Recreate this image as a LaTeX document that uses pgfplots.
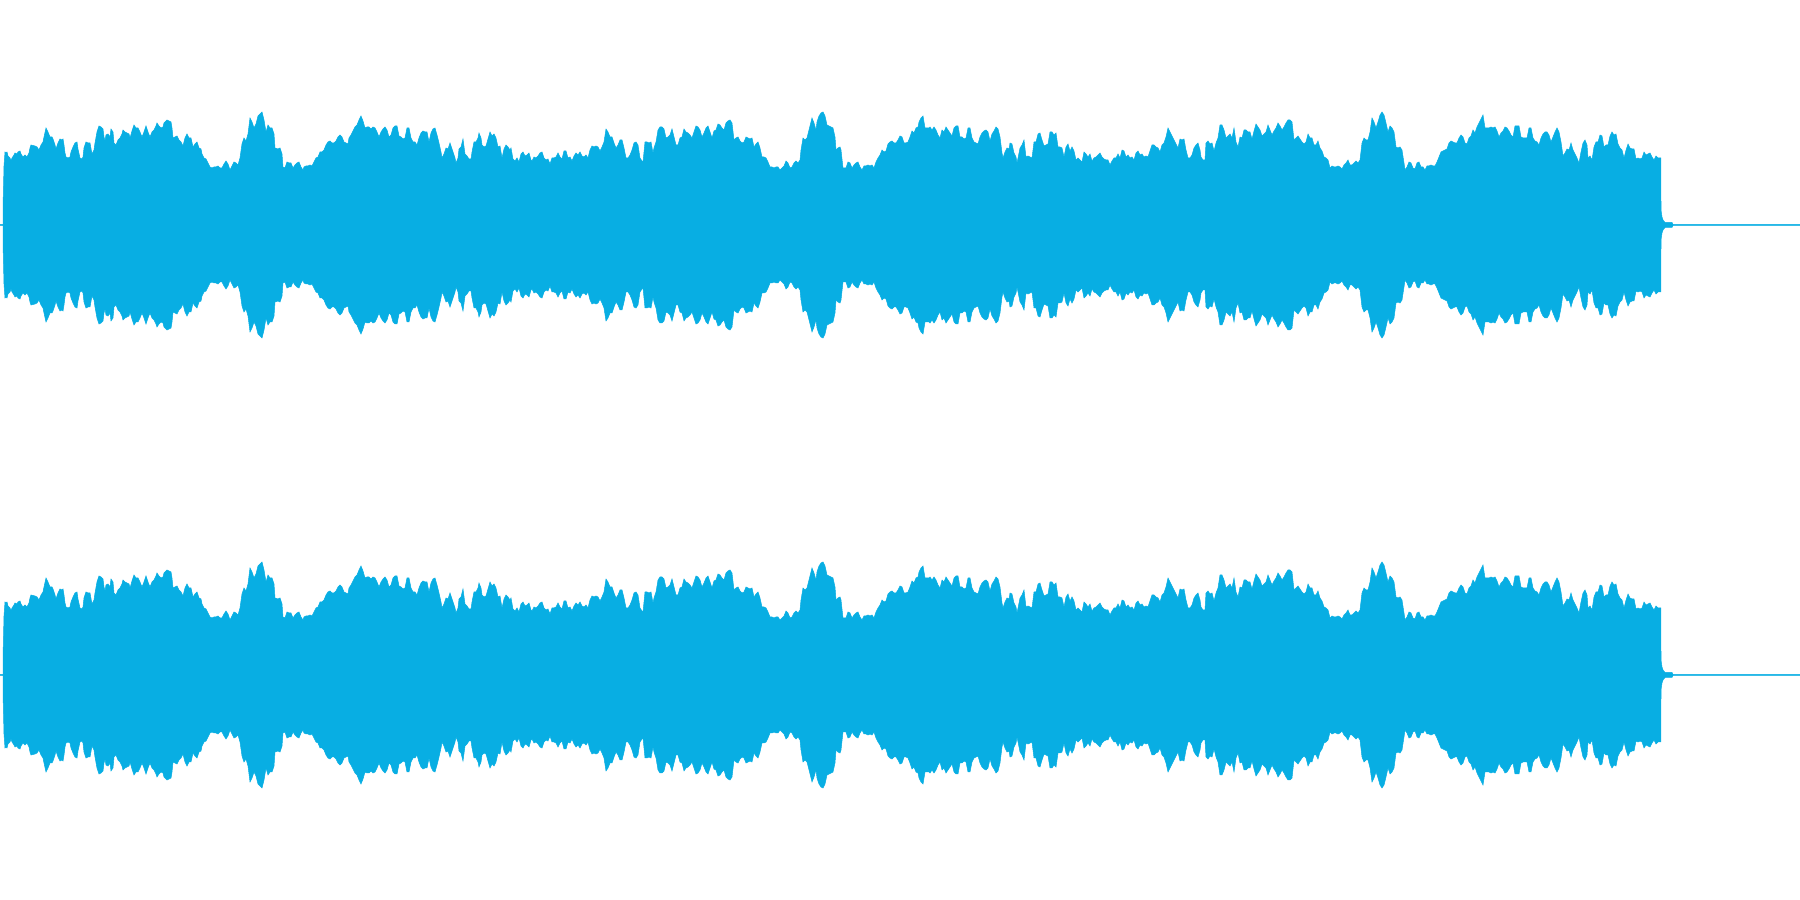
\documentclass[border=0pt]{standalone}
\usepackage{pgfplots}
\usepackage{pgfplotstable}
\pgfplotsset{compat=1.18}
\definecolor{wave}{RGB}{8,174,227}
\pgfplotstableread{
x a
0 0.35
3 0.35
3.1 22
4 59
5 73
6 72
7 73
8 69
10 67
11 64
12 67
14 70
15 72
17 71
18 73
20 74
21 71
23 68
25 70
27 68
29 72
30 77
31 80
35 79
37 78
39 75
41 80
43 83
44 88
46 97
48 93
50 88
52 88
53 86
55 80
56 76
58 82
60 86
62 85
63 86
64 80
65 72
66 68
68 67
70 68
71 73
73 78
75 82
77 83
78 76
80 67
82 66
83 68
84 77
86 83
88 82
90 82
92 71
94 75
95 82
97 93
99 99
101 98
103 96
104 88
105 84
106 90
108 91
110 88
111 96
113 93
114 82
116 80
118 85
120 87
122 91
123 95
125 93
127 92
129 91
130 87
132 94
134 100
136 97
138 97
140 93
142 88
144 93
146 99
148 93
150 88
152 93
154 95
156 99
157 102
159 99
161 97
163 98
164 102
167 105
169 104
171 103
172 97
173 87
175 88
177 89
179 85
181 83
183 79
185 87
187 91
189 87
191 87
193 78
195 81
197 83
199 77
201 76
202 71
204 67
206 66
208 62
210 58
212 57
214 58
216 58
218 59
220 57
222 57
224 61
226 64
228 61
230 55
232 59
234 63
236 62
238 60
240 67
241 74
242 81
244 87
246 84
248 91
250 107
252 103
254 97
256 101
258 109
260 111
262 113
264 105
266 93
268 100
270 97
272 97
274 91
275 77
278 76
280 77
282 71
283 58
285 57
287 63
289 62
291 62
293 57
295 60
297 62
299 63
301 58
303 55
304 58
306 59
308 59
310 60
312 59
314 63
316 67
318 68
320 73
322 73
324 75
326 80
328 83
330 84
332 82
334 82
336 84
338 88
340 90
342 88
344 83
346 82
348 81
349 87
351 90
353 94
355 98
357 100
359 105
361 109
363 104
365 97
367 98
369 98
371 96
373 98
375 97
377 93
379 88
381 93
383 96
385 98
387 95
389 88
391 90
393 97
395 99
397 99
399 89
401 88
403 86
405 87
407 97
409 97
411 87
413 83
415 83
417 80
419 87
421 92
423 94
425 93
427 93
429 83
431 92
433 96
435 97
437 90
439 82
441 73
442 67
444 71
446 77
448 76
450 82
452 76
454 70
455 67
456 62
458 67
459 76
461 78
463 86
465 71
467 69
469 66
471 66
472 73
474 83
476 83
478 87
479 92
481 87
482 80
484 78
486 79
488 86
490 93
492 89
494 91
496 87
498 78
500 79
502 67
504 76
506 80
508 78
510 75
511 77
513 66
515 64
517 67
519 63
521 71
523 73
525 69
527 70
529 72
531 65
532 64
534 68
536 67
538 69
540 72
542 73
544 67
546 65
548 66
550 61
552 67
554 67
556 68
558 72
560 68
562 66
564 74
566 74
568 67
570 68
572 64
574 69
576 72
578 70
580 73
582 69
584 68
586 70
588 67
590 75
592 79
594 78
596 79
598 78
600 74
602 78
604 83
606 96
608 93
610 88
612 88
614 82
616 77
618 80
620 85
622 85
624 77
626 67
628 67
630 70
632 75
634 82
636 83
638 80
640 67
642 64
643 63
645 83
647 83
649 82
651 83
653 72
654 77
656 83
658 95
660 98
662 98
664 96
666 87
668 88
670 90
672 96
674 88
676 80
678 80
680 87
682 88
684 96
686 93
688 92
690 90
692 87
694 93
696 99
698 98
700 95
702 88
704 92
706 97
708 99
710 93
712 87
714 94
716 95
718 101
720 100
722 97
724 95
726 102
728 104
730 105
732 102
734 85
736 87
738 88
740 84
742 82
744 83
746 88
748 87
750 86
752 87
754 78
756 81
758 83
760 77
762 68
764 68
766 67
768 63
770 58
772 58
774 57
776 58
778 58
780 55
782 57
784 59
786 64
788 62
790 57
792 58
794 62
796 64
798 62
800 65
801 75
803 87
805 85
807 87
809 95
811 103
812 107
814 102
816 95
817 103
819 109
821 112
823 113
825 109
827 100
829 99
831 98
833 97
835 88
836 75
838 77
840 78
841 75
843 57
846 57
848 63
850 62
852 57
854 60
856 62
858 63
860 58
862 55
864 59
866 59
868 60
870 59
872 60
874 57
876 63
878 67
880 70
882 75
884 73
886 74
888 81
890 83
892 84
894 82
896 82
898 85
900 89
902 88
904 82
906 82
908 83
910 88
912 94
914 92
916 97
918 98
919 103
921 107
923 109
925 97
927 97
929 97
930 98
932 95
934 98
936 95
938 90
940 87
942 95
944 93
946 98
948 95
950 92
952 89
954 97
956 99
958 99
960 88
962 88
964 86
966 87
968 97
970 97
972 87
974 83
976 82
978 81
980 88
982 92
984 94
986 95
988 93
990 84
992 91
994 94
996 98
998 96
1000 88
1002 72
1003 67
1005 73
1007 77
1009 76
1010 82
1012 81
1014 72
1016 68
1017 62
1018 67
1020 77
1022 80
1024 85
1026 68
1028 69
1030 68
1032 67
1034 83
1036 83
1038 91
1040 92
1042 85
1044 79
1046 80
1048 81
1050 93
1052 93
1054 90
1056 92
1058 78
1060 78
1062 77
1064 68
1066 78
1068 81
1070 74
1072 78
1074 74
1076 65
1078 67
1080 65
1082 63
1084 73
1086 71
1088 68
1090 71
1092 64
1094 67
1096 68
1098 70
1100 72
1102 68
1104 66
1106 65
1108 65
1110 60
1112 64
1114 67
1116 67
1118 71
1120 67
1122 75
1124 74
1126 68
1128 70
1130 67
1132 68
1134 65
1136 72
1138 74
1140 70
1142 71
1144 68
1146 69
1148 68
1150 74
1152 80
1154 80
1156 78
1158 77
1160 73
1162 80
1164 82
1166 88
1168 97
1170 93
1172 89
1174 85
1176 81
1178 77
1180 86
1182 85
1184 86
1186 75
1188 67
1190 67
1192 70
1194 77
1196 80
1198 82
1200 75
1201 68
1203 65
1205 65
1206 82
1208 84
1210 81
1212 82
1214 74
1216 82
1218 87
1220 100
1222 100
1224 95
1226 87
1228 89
1230 91
1232 87
1234 97
1236 83
1238 78
1240 88
1242 87
1244 95
1246 95
1248 93
1250 93
1252 86
1254 94
1256 101
1258 98
1260 95
1262 89
1264 91
1266 93
1268 100
1270 95
1272 90
1274 94
1276 97
1278 102
1280 99
1282 95
1284 98
1286 102
1288 105
1290 105
1292 103
1294 85
1296 87
1298 89
1300 86
1302 83
1304 81
1306 83
1308 91
1310 87
1312 87
1314 80
1316 80
1318 84
1320 77
1322 74
1324 68
1326 67
1328 65
1330 57
1332 59
1334 58
1336 58
1338 59
1340 58
1342 56
1344 60
1346 62
1348 65
1350 60
1352 60
1354 62
1356 64
1358 62
1360 65
1362 82
1364 87
1366 85
1368 85
1370 93
1372 107
1374 103
1376 97
1378 103
1380 110
1382 113
1384 110
1386 102
1388 93
1390 99
1392 97
1394 93
1396 78
1398 77
1400 78
1402 75
1404 62
1405 55
1407 58
1409 63
1411 62
1413 57
1415 56
1417 62
1419 63
1421 58
1423 58
1425 55
1427 59
1429 59
1431 60
1433 59
1435 59
1437 63
1439 68
1441 73
1443 74
1445 75
1447 76
1449 82
1451 84
1453 83
1455 82
1457 82
1459 87
1461 90
1463 88
1465 82
1467 81
1469 87
1471 89
1473 95
1475 92
1477 98
1479 102
1481 106
1483 110
1485 97
1487 97
1489 97
1491 98
1493 97
1495 98
1497 94
1499 88
1501 92
1503 94
1505 98
1507 97
1509 94
1511 90
1513 88
1515 99
1517 99
1519 99
1521 88
1523 87
1525 87
1527 87
1529 97
1531 97
1533 87
1535 84
1537 83
1539 80
1541 87
1543 91
1545 93
1547 93
1549 90
1551 83
1553 88
1555 93
1557 97
1559 93
1561 83
1563 69
1565 72
1567 76
1569 75
1571 82
1573 75
1575 71
1577 67
1579 62
1581 73
1583 82
1585 85
1587 80
1588 67
1590 69
1592 65
1594 78
1596 83
1598 83
1600 90
1602 89
1604 78
1606 80
1608 80
1610 89
1612 93
1614 90
1616 91
1618 81
1620 77
1622 75
1624 67
1626 75
1628 81
1630 77
1632 76
1634 76
1636 66
1638 67
1640 66
1642 67
1644 73
1646 70
1648 71
1650 72
1652 68
1654 65
1656 69
1658 67
1660 67
1660.9 67
1661 15
1662 8
1663 5
1665 2.5
1672 2.5
1673 0.35
1800 0.35
}\env
\begin{document}
\begin{tikzpicture}
\pgfplotsset{wav/.style={scale only axis, width=900pt, height=225pt,
  xmin=0, xmax=1800, ymin=-225, ymax=225, hide axis, clip=true, anchor=south west}}
\path (0pt,0pt) rectangle (900pt,450pt);
\begin{axis}[wav, at={(0pt,225pt)}]
\addplot[fill=wave, draw=wave, line width=0.25pt] table[x=x,y=a]{\env} \closedcycle;
\addplot[fill=wave, draw=wave, line width=0.25pt] table[x=x,y expr=-\thisrow{a}]{\env} \closedcycle;
\end{axis}
\begin{axis}[wav, at={(0pt,0pt)}]
\addplot[fill=wave, draw=wave, line width=0.25pt] table[x=x,y=a]{\env} \closedcycle;
\addplot[fill=wave, draw=wave, line width=0.25pt] table[x=x,y expr=-\thisrow{a}]{\env} \closedcycle;
\end{axis}
\end{tikzpicture}
\end{document}
